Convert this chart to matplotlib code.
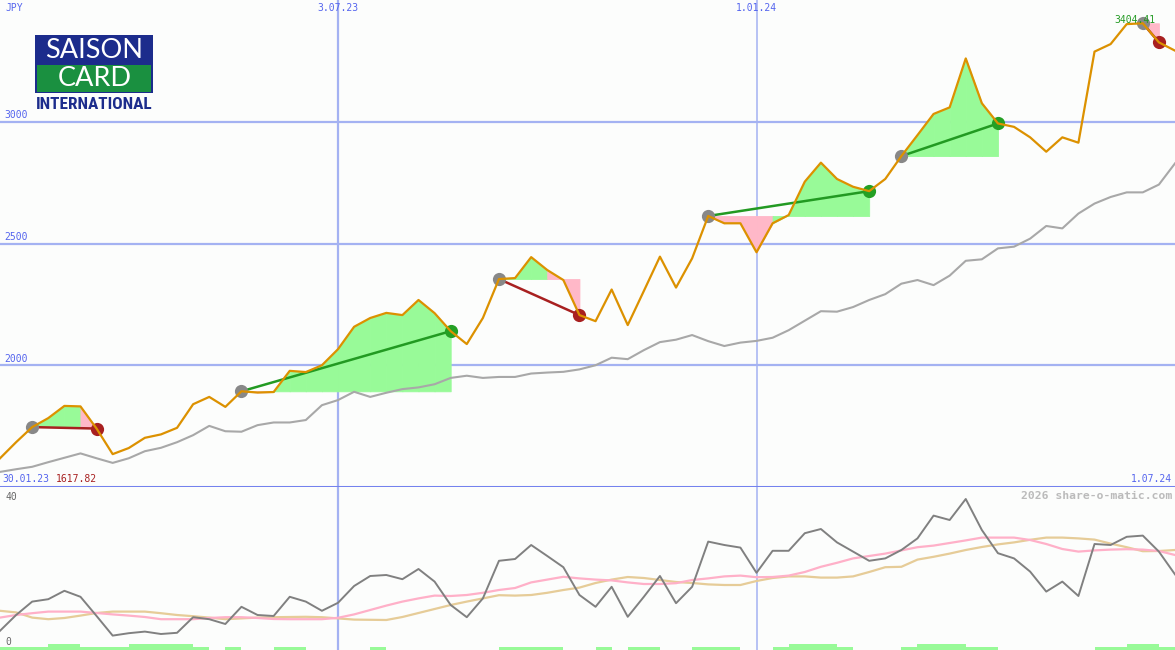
import numpy as np
import pandas as pd
import matplotlib
matplotlib.use("Agg")
import matplotlib.pyplot as plt
from matplotlib.patches import Rectangle
import matplotlib.transforms as mtrans

# ---------------- data ----------------
dates = pd.date_range("2023-02-06", periods=74, freq="7D")

price = [1617.82, 1684, 1746, 1783, 1833, 1831, 1740, 1635, 1660, 1702,
         1716, 1743, 1840, 1870, 1829, 1893, 1888, 1890, 1977, 1972,
         2000, 2066, 2158, 2194, 2215, 2206, 2268, 2214, 2140, 2087,
         2194, 2354, 2358, 2444, 2391, 2350, 2206, 2181, 2311, 2165,
         2305, 2446, 2319, 2439, 2613, 2583, 2583, 2464, 2583, 2617,
         2754, 2832, 2765, 2733, 2715, 2765, 2859, 2945, 3032, 3059,
         3260, 3076, 2993, 2979, 2936, 2877, 2936, 2914, 3288, 3319,
         3401, 3404.41, 3326, 3292]

avg_line = [1562, 1573, 1583, 1602, 1620, 1638, 1618, 1599, 1618, 1647,
            1661, 1684, 1713, 1751, 1729, 1727, 1754, 1765, 1765, 1775,
            1836, 1857, 1891, 1870, 1887, 1902, 1909, 1922, 1948, 1957,
            1948, 1952, 1952, 1966, 1970, 1973, 1983, 2000, 2031, 2025,
            2062, 2095, 2105, 2124, 2099, 2079, 2093, 2100, 2113, 2144,
            2183, 2222, 2220, 2239, 2268, 2292, 2335, 2350, 2329, 2368,
            2429, 2435, 2480, 2487, 2520, 2572, 2562, 2623, 2664, 2691,
            2710, 2710, 2742, 2829]

osc = [4.8, 8.75, 12.1, 12.7, 14.8, 13.3, 8.5, 3.6, 4.2, 4.6,
       4.0, 4.3, 8.2, 7.7, 6.5, 10.8, 8.75, 8.5, 13.3, 12.1,
       9.8, 11.8, 16.0, 18.5, 18.75, 17.7, 20.25, 17.1, 11.25, 8.2,
       12.9, 22.3, 22.75, 26.25, 23.5, 20.7, 13.75, 10.8, 15.8, 8.3,
       13.3, 18.5, 11.7, 15.8, 27.1, 26.25, 25.6, 19.3, 24.8, 24.8,
       29.2, 30.25, 26.9, 24.6, 22.3, 22.9, 25.0, 27.9, 33.6, 32.5,
       37.75, 30.0, 24.2, 22.9, 19.6, 14.6, 17.1, 13.5, 26.5, 26.25,
       28.3, 28.6, 24.6, 18.9]

osc_pink = [8.1, 8.75, 9.2, 9.6, 9.6, 9.6, 9.25, 8.9, 8.6, 8.25,
            7.7, 7.7, 7.7, 8.0, 8.2, 8.2, 8.0, 7.75, 7.7, 7.7,
            7.7, 8.05, 8.9, 10.0, 11.1, 12.1, 12.9, 13.6, 13.5, 13.75,
            14.3, 15.0, 15.5, 16.9, 17.6, 18.3, 17.9, 17.6, 17.4, 16.9,
            16.5, 16.5, 16.7, 17.5, 17.9, 18.4, 18.6, 18.2, 18.25, 18.6,
            19.5, 20.8, 21.8, 22.9, 23.5, 24.1, 24.9, 25.7, 26.1, 26.75,
            27.4, 28.1, 28.1, 28.1, 27.5, 26.5, 25.25, 24.6, 24.9, 25.1,
            25.2, 25.1, 24.75, 23.75]

osc_tan = [9.8, 9.4, 8.1, 7.7, 8.0, 8.6, 9.25, 9.6, 9.6, 9.6,
           9.2, 8.75, 8.45, 8.1, 7.7, 7.9, 8.1, 8.2, 8.25, 8.3,
           8.2, 7.9, 7.6, 7.55, 7.5, 8.25, 9.25, 10.25, 11.25, 12.1,
           12.9, 13.7, 13.6, 13.75, 14.3, 15.0, 15.6, 16.75, 17.6, 18.25,
           18.0, 17.5, 17.0, 16.75, 16.4, 16.25, 16.25, 17.25, 18.0, 18.4,
           18.4, 18.1, 18.1, 18.4, 19.5, 20.7, 20.8, 22.6, 23.3, 24.1,
           25.0, 25.75, 26.4, 26.9, 27.55, 28.1, 28.1, 27.9, 27.6, 26.6,
           25.7, 24.7, 24.75, 25.0]

volume_bars = [0.75, 0.75, 0.75, 1.5, 1.5, 0.75, 0.75, 0.75, 1.5, 1.5,
               1.5, 1.5, 0.75, 0, 0.75, 0, 0, 0.75, 0.75, 0,
               0, 0, 0, 0.75, 0, 0, 0, 0, 0, 0,
               0, 0.75, 0.75, 0.75, 0.75, 0, 0, 0.75, 0, 0.75,
               0.75, 0, 0, 0.75, 0.75, 0.75, 0, 0, 0.75, 1.5,
               1.5, 1.5, 0.75, 0, 0, 0, 0.75, 1.5, 1.5, 1.5,
               0.75, 0.75, 0, 0, 0, 0, 0, 0, 0.75, 0.75,
               1.5, 1.5, 0.75, 0]

trade_entries = [2, 15, 31, 44, 56, 71]
trade_exits = [6, 28, 36, 54, 62, 72]

y_ticks = [2000, 2500, 3000]
v_lines = ["2023-07-03", "2024-01-01"]
v_labels = ["3.07.23", "1.01.24"]
start_label = "30.01.23"
end_label = "1.07.24"
x_end = "2024-07-01"

# ---------------- style ----------------
W, H = 1175, 650
BG = "#fcfdfc"
GRID = "#a4b2f2"
AXLINE = "#7482ee"
BLUE_TXT = "#5464ee"
PRICE_C = "#dc9100"
MA_C = "#a8a8a8"
GREEN_F = "#98fa98"
PINK_F = "#ffb8c8"
GREEN_L = "#229a22"
RED_L = "#a82020"
MONO = "DejaVu Sans Mono"

fig = plt.figure(figsize=(W / 100, H / 100), dpi=100, facecolor=BG)
split = (H - 487) / H
ax = fig.add_axes([0, split, 1, 1 - split])
ax2 = fig.add_axes([0, 0, 1, split])
for a in (ax, ax2):
    a.set_facecolor(BG)
    a.set_axis_off()
    a.set_xlim(dates[0], pd.Timestamp(x_end))

ax.set_ylim(1500, 3500)
ax2.set_ylim(0, 40.75)

# grid
for v in y_ticks:
    ax.axhline(v, color=GRID, lw=1.6, zorder=0)
    ax.text(0.004, v + 6, str(v), transform=mtrans.blended_transform_factory(ax.transAxes, ax.transData),
            ha="left", va="bottom", fontsize=7, family=MONO, color=BLUE_TXT)
for d, lab, lw in zip(v_lines, v_labels, [1.6, 1.1]):
    t = pd.Timestamp(d)
    ax.axvline(t, color=GRID, lw=lw, zorder=0)
    ax2.axvline(t, color=GRID, lw=lw, zorder=0)
    ax.text(t, 0.993, lab, transform=mtrans.blended_transform_factory(ax.transData, ax.transAxes),
            ha="center", va="top", fontsize=7, family=MONO, color=BLUE_TXT)
ax.axhline(1500, color=AXLINE, lw=2.2, zorder=6)

# moving average
ax.plot(dates, avg_line, color=MA_C, lw=1.5, zorder=2)

# trades
p = np.array(price)
for e, x in zip(trade_entries, trade_exits):
    lvl = p[e]
    for k in range(e, x):
        col = GREEN_F if p[k + 1] >= lvl else PINK_F
        ax.fill_between(dates[k:k + 2], [lvl, lvl], p[k:k + 2], facecolor=col, edgecolor=col,
                        lw=0.6, zorder=1)
    win = p[x] > lvl
    ax.plot([dates[e], dates[x]], [lvl, p[x]], color=GREEN_L if win else RED_L, lw=1.8, zorder=3)
    ax.plot(dates[e], lvl, "o", ms=9.5, color="#888888", mec="none", zorder=4)
    ax.plot(dates[x], p[x], "o", ms=9.5, color="#24a024" if win else "#a82020", mec="none", zorder=4)

ax.plot(dates, price, color=PRICE_C, lw=1.6, zorder=5)

# max label
imax = int(np.argmax(p))
ax.annotate(f"{p[imax]:.2f}", (dates[imax], p[imax]), xytext=(-8, 3), textcoords="offset pixels",
            ha="center", va="center", fontsize=7, family=MONO, color="#229a22", zorder=7)

# axis texts
fig.text(5 / W, 1 - 8 / H, "JPY", ha="left", va="center", fontsize=7, family=MONO, color=BLUE_TXT)
fig.text(2 / W, 1 - 479 / H, start_label, ha="left", va="center", fontsize=7, family=MONO, color=BLUE_TXT)
fig.text(56 / W, 1 - 479 / H, f"{price[0]:.2f}", ha="left", va="center", fontsize=7, family=MONO, color=RED_L)
fig.text(1172 / W, 1 - 479 / H, end_label, ha="right", va="center", fontsize=7, family=MONO, color=BLUE_TXT)
fig.text(1172 / W, 1 - 496 / H, "2026 share-o-matic.com", ha="right", va="center", fontsize=8.2,
         family=MONO, weight="bold", color="#bbbbbb")
fig.text(5 / W, 1 - 497 / H, "40", ha="left", va="center", fontsize=7, family=MONO, color="#666666")
fig.text(5 / W, 1 - 642 / H, "0", ha="left", va="center", fontsize=7, family=MONO, color="#666666")

# lower panel
ax2.bar(dates, volume_bars, width=7, align="edge", color="#98fa98", lw=0, zorder=1)
ax2.plot(dates, osc_tan, color="#e6cc98", lw=1.6, zorder=2)
ax2.plot(dates, osc_pink, color="#ffb0c8", lw=1.6, zorder=2)
ax2.plot(dates, osc, color="#808080", lw=1.4, zorder=3)

# logo
def frect(x0, y0, w, h, c):
    fig.patches.append(Rectangle((x0 / W, 1 - (y0 + h) / H), w / W, h / H, transform=fig.transFigure,
                                 facecolor=c, edgecolor="none", zorder=10))
frect(35, 35, 118, 58, "#1c2c8c")
frect(37, 65, 114, 27, "#1a9040")
fig.text(94.5 / W, 1 - 50.5 / H, "SAISON", ha="center", va="center", fontsize=19.5, color="white",
         family=["Lato", "DejaVu Sans"], weight="normal", zorder=11)
fig.text(94.5 / W, 1 - 78.5 / H, "CARD", ha="center", va="center", fontsize=19.5, color="white",
         family=["Lato", "DejaVu Sans"], weight="normal", zorder=11)
fig.text(94 / W, 1 - 104.5 / H, "INTERNATIONAL", ha="center", va="center", fontsize=12.4, color="#1c2c8c",
         family=["Roboto Condensed", "DejaVu Sans"], stretch="condensed", weight="bold", zorder=11)

fig.savefig("out.png", dpi=100, facecolor=BG)
